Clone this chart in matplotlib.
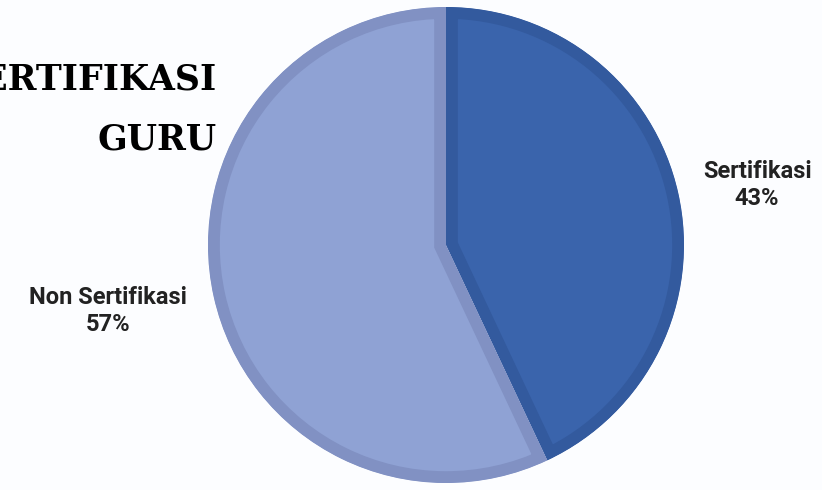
import matplotlib.pyplot as plt

# data
categories = ['Sertifikasi', 'Non Sertifikasi']
values = [43, 57]
fill_colors = ['#3A64AC', '#8FA2D4']
edge_colors = ['#335A9E', '#8191C3']
title_lines = ['SERTIFIKASI', 'GURU']

W, H = 822, 490
cx, cy, r = 446, 245, 238   # pie centre/radius in pixels

fig = plt.figure(figsize=(W / 100, H / 100), dpi=100)
fig.patch.set_facecolor('#FCFDFF')
ax = fig.add_axes([0, 0, 1, 1])
ax.set_facecolor('#FCFDFF')

wedges, _ = ax.pie(values, colors=fill_colors, startangle=90, counterclock=False,
                   radius=1.0, wedgeprops=dict(linewidth=17, joinstyle='miter'))
# inner border: stroke clipped to each wedge's own outline
for w, ec in zip(wedges, edge_colors):
    w.set_edgecolor(ec)
    w.set_clip_on(True)          # pie turns clipping off by default
    w.set_clip_path(w.get_path(), w.get_transform())

ax.set_xlim(-cx / r, (W - cx) / r)
ax.set_ylim(-(H - cy) / r, cy / r)
ax.set_aspect('auto')
ax.axis('off')

# slice labels
label_pos = [(1.307, 0.252), (-1.42, -0.277)]
for (x, y), cat, v in zip(label_pos, categories, values):
    ax.text(x, y, f'{cat}\n{v}%', ha='center', va='center', fontsize=17,
            family='Roboto', weight='bold', color='#222222', linespacing=1.2)

# title, clipped at the left edge like the original
fig.text(217 / W, 1 - 89 / H, title_lines[0], ha='right', va='baseline',
         fontsize=25, family='DejaVu Serif', weight='bold', color='black')
fig.text(217 / W, 1 - 149 / H, title_lines[1], ha='right', va='baseline',
         fontsize=25, family='DejaVu Serif', weight='bold', color='black')

fig.savefig('out.png', dpi=100, facecolor=fig.get_facecolor())
